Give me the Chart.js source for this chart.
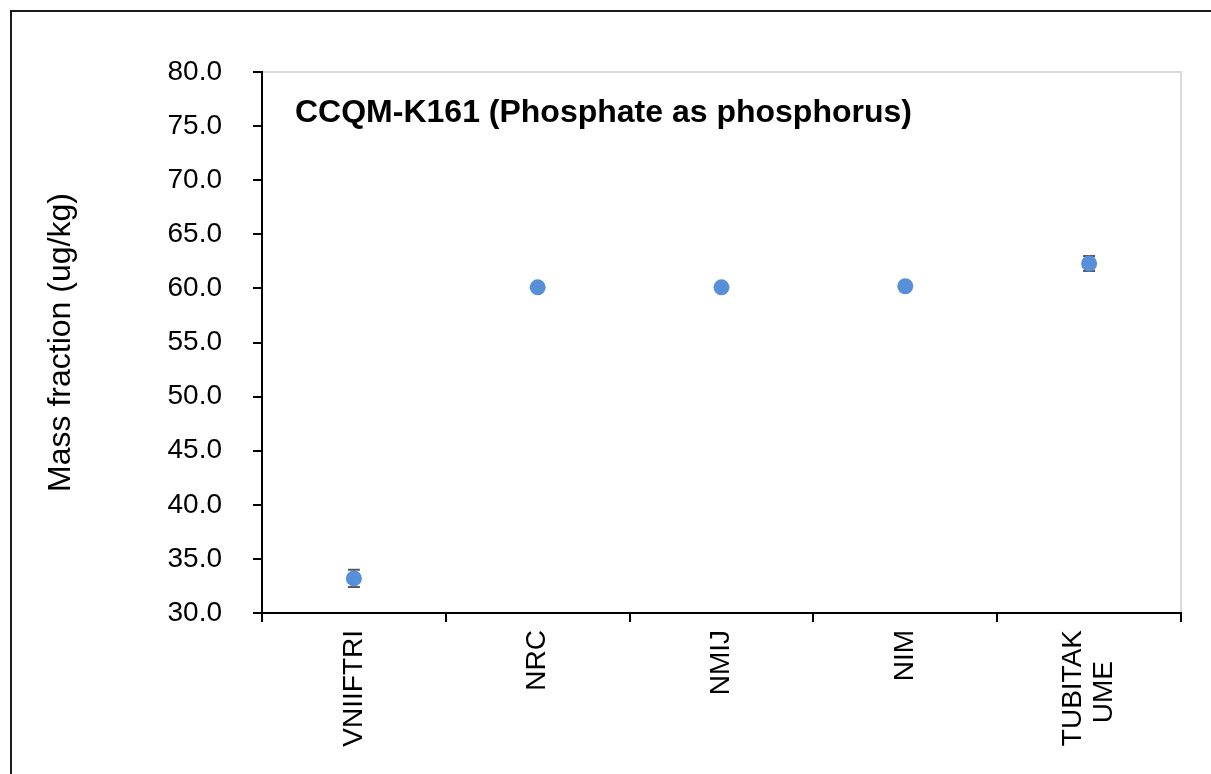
<!DOCTYPE html>
<html>
<head>
<meta charset="utf-8">
<script src="https://cdn.jsdelivr.net/npm/chart.js@4.4.1/dist/chart.umd.min.js"></script>
<style>
  html, body { margin: 0; padding: 0; background: #ffffff; }
  #wrap { position: relative; width: 1211px; height: 774px; overflow: hidden; }
  canvas { display: block; }
</style>
</head>
<body>
<div id="wrap"><canvas id="c" width="1211" height="774"></canvas></div>
<script>
const categories = ['VNIIFTRI', 'NRC', 'NMIJ', 'NIM', ['TUBITAK', 'UME    ']];
const massFraction = [33.2, 60.1, 60.1, 60.2, 62.3];
const uncertainty = [0.8, 0.3, 0.3, 0.3, 0.7];
const chartTitle = 'CCQM-K161 (Phosphate as phosphorus)';
const yAxisTitle = 'Mass fraction (ug/kg)';
const yMin = 30, yMax = 80, yStep = 5;

const FONT = "'Liberation Sans', Arial, sans-serif";

const framePlugin = {
  id: 'frame',
  beforeDraw(chart) {
    const {ctx, chartArea: a} = chart;
    // center multi-line rotated category labels around their tick
    const xs = chart.scales.x;
    const items = xs.getLabelItems(chart.chartArea);
    items.forEach((it) => {
      if (Array.isArray(it.label) && !it._centered) {
        const lh = it.font.lineHeight;
        it.options.translation[0] -= lh * (it.label.length - 1) / 2;
        it._centered = true;
      }
    });
    ctx.save();
    ctx.strokeStyle = '#d9d9d9';
    ctx.lineWidth = 2;
    ctx.beginPath();
    ctx.moveTo(a.left, a.top);
    ctx.lineTo(a.right, a.top);
    ctx.lineTo(a.right, a.bottom);
    ctx.stroke();
    ctx.restore();
  },
  afterDraw(chart) {
    const {ctx, chartArea: a} = chart;
    ctx.save();
    ctx.strokeStyle = '#1a1a1a';
    ctx.lineWidth = 2;
    ctx.beginPath();
    ctx.moveTo(11, 780);
    ctx.lineTo(11, 11);
    ctx.lineTo(1220, 11);
    ctx.stroke();
    ctx.fillStyle = '#000000';
    ctx.font = "bold 32px " + FONT;
    ctx.textAlign = 'left';
    ctx.textBaseline = 'middle';
    ctx.fillText(chartTitle, a.left + 33, a.top + 41);
    ctx.restore();
  }
};

const errorBarPlugin = {
  id: 'errorBars',
  beforeDatasetsDraw(chart) {
    const {ctx} = chart;
    const xs = chart.scales.x, ys = chart.scales.y;
    ctx.save();
    ctx.strokeStyle = '#595959';
    ctx.lineWidth = 2;
    massFraction.forEach((v, i) => {
      const x = xs.getPixelForValue(i);
      const yTop = ys.getPixelForValue(v + uncertainty[i]);
      const yBot = ys.getPixelForValue(v - uncertainty[i]);
      ctx.beginPath();
      ctx.moveTo(x, yTop); ctx.lineTo(x, yBot);
      ctx.moveTo(x - 6, yTop); ctx.lineTo(x + 6, yTop);
      ctx.moveTo(x - 6, yBot); ctx.lineTo(x + 6, yBot);
      ctx.stroke();
    });
    ctx.restore();
  }
};

new Chart(document.getElementById('c'), {
  type: 'line',
  data: {
    labels: categories,
    datasets: [{
      data: massFraction,
      showLine: false,
      pointRadius: 8,
      pointHoverRadius: 8,
      pointBackgroundColor: '#578fd9',
      pointBorderColor: '#578fd9',
      pointBorderWidth: 0
    }]
  },
  options: {
    responsive: false,
    animation: false,
    events: [],
    layout: { padding: { left: 0, top: 72, right: 30, bottom: 0 } },
    plugins: { legend: { display: false }, tooltip: { enabled: false }, title: { display: false } },
    scales: {
      x: {
        type: 'category',
        offset: true,
        grid: { display: true, offset: true, drawOnChartArea: false, drawTicks: true, tickLength: 9, color: '#000000', lineWidth: 2 },
        border: { display: true, color: '#000000', width: 2 },
        ticks: {
          color: '#000000',
          font: { family: FONT, size: 28, lineHeight: 1.1 },
          minRotation: 90, maxRotation: 90,
          autoSkip: false,
          padding: 8
        },
        afterFit(scale) { scale.height = 161; }
      },
      y: {
        min: yMin, max: yMax,
        grid: { display: true, drawOnChartArea: false, drawTicks: true, tickLength: 9, color: '#000000', lineWidth: 2 },
        border: { display: true, color: '#000000', width: 2 },
        ticks: {
          stepSize: yStep,
          color: '#000000',
          font: { family: FONT, size: 28 },
          padding: 31,
          callback: (v) => Number(v).toFixed(1)
        },
        title: {
          display: true,
          text: yAxisTitle,
          color: '#000000',
          font: { family: FONT, size: 32, weight: 'normal' },
          padding: { top: 42, bottom: 0 }
        },
        afterFit(scale) { scale.width = 262; }
      }
    }
  },
  plugins: [framePlugin, errorBarPlugin]
});
</script>
</body>
</html>
